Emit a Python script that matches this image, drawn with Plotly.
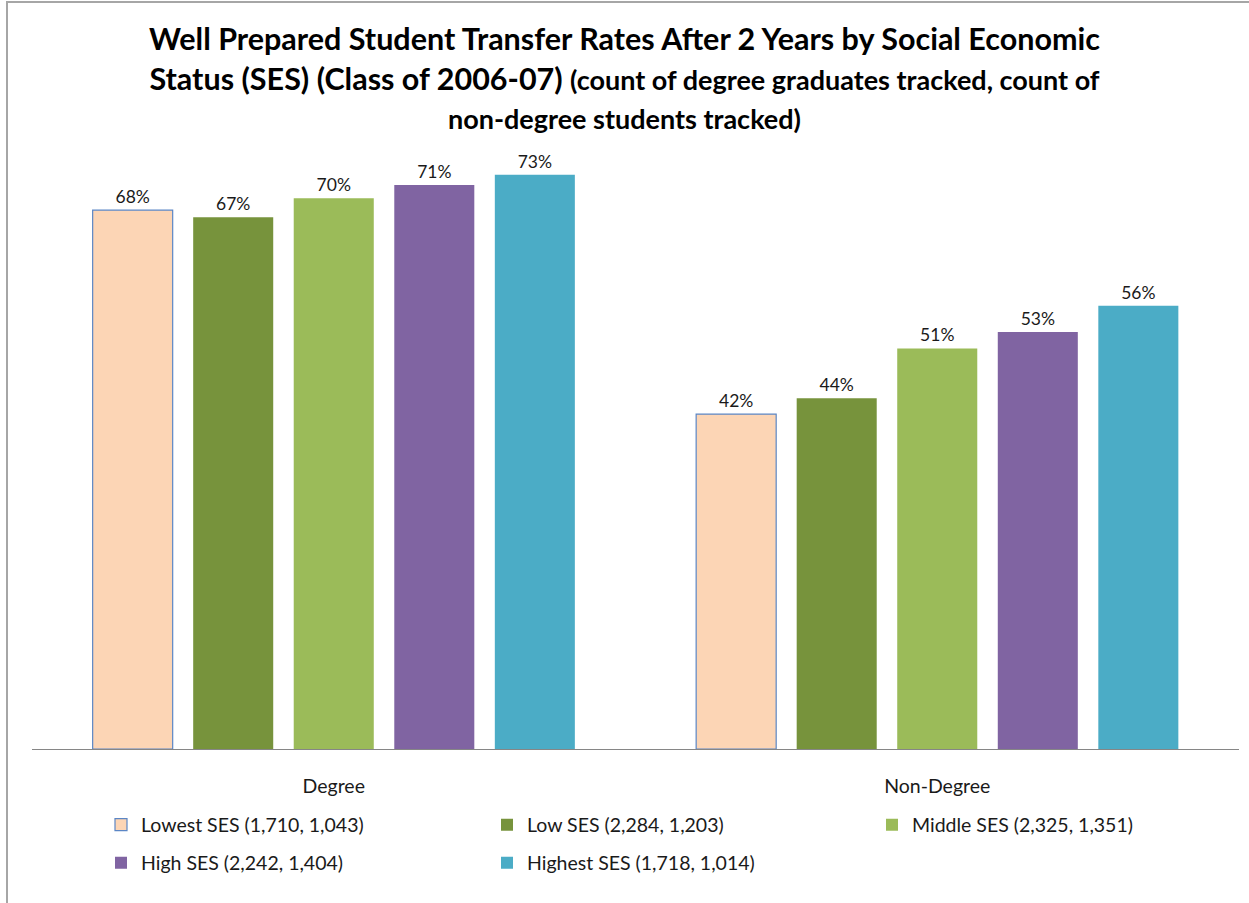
import plotly.graph_objects as go

categories = ["Degree", "Non-Degree"]
series_names = [
    "Lowest SES (1,710, 1,043)",
    "Low SES (2,284, 1,203)",
    "Middle SES (2,325, 1,351)",
    "High SES (2,242, 1,404)",
    "Highest SES (1,718, 1,014)",
]
lowest_ses = [0.682, 0.424]
low_ses = [0.673, 0.444]
middle_ses = [0.697, 0.507]
high_ses = [0.714, 0.528]
highest_ses = [0.727, 0.561]
series_values = [lowest_ses, low_ses, middle_ses, high_ses, highest_ses]

colors = ["#FCD5B5", "#77933C", "#9BBB59", "#8064A2", "#4BACC6"]
line_colors = ["#5B86C5", "#77933C", "#9BBB59", "#8064A2", "#4BACC6"]
line_widths = [1.2, 0, 0, 0, 0]

# plot area geometry (page px)
W, H = 1249, 903
ml, mr, mt, mb = 32, 10, 117, 154
pw = W - ml - mr
ph = H - mt - mb

def px_x(x):
    return (x - ml) / pw

def px_y(y):
    return (H - mb - y) / ph

legend_names = ["legend", "legend2", "legend3", "legend4", "legend5"]
legend_pos = [(101, 825), (487, 825), (872, 825), (101, 863), (487, 863)]

FONT = "Lato, Carlito, 'Liberation Sans', sans-serif"

fig = go.Figure()
for i, name in enumerate(series_names):
    fig.add_trace(go.Bar(
        x=categories,
        y=series_values[i],
        name=name,
        marker=dict(color=colors[i], line=dict(color=line_colors[i], width=line_widths[i])),
        texttemplate="%{y:.0%}",
        textposition="outside",
        textfont=dict(size=17.5, color="#1a1a1a", family=FONT),
        cliponaxis=False,
        legend=legend_names[i],
    ))

layout_legends = {}
for i, ln in enumerate(legend_names):
    lx, ly = legend_pos[i]
    layout_legends[ln] = dict(
        x=px_x(lx), y=px_y(ly), xanchor="left", yanchor="middle",
        orientation="v", bgcolor="rgba(0,0,0,0)", borderwidth=0,
        font=dict(size=19.5, color="#1a1a1a", family=FONT),
    )

title_text = ("Well Prepared Student Transfer Rates After 2 Years by Social Economic<br>"
              "Status (SES) (Class of 2006-07) <span style='font-size:27px'>(count of degree graduates tracked, count of</span><br>"
              "<span style='font-size:27px'>non-degree students tracked)</span>")

fig.update_layout(
    width=W, height=H,
    margin=dict(l=ml, r=mr, t=mt, b=mb),
    paper_bgcolor="white", plot_bgcolor="white",
    barmode="group", bargap=0.167, bargroupgap=0.204,
    title=dict(text="<b>" + title_text + "</b>", x=0.5, xref="container", xanchor="center",
               y=1 - 50 / H, yref="container", yanchor="top",
               font=dict(size=30.5, color="#000000", family=FONT)),
    xaxis=dict(showline=True, linecolor="#868686", linewidth=1, ticks="",
               tickfont=dict(size=19.5, color="#1a1a1a", family=FONT),
               ticklabelstandoff=20, showgrid=False, zeroline=False),
    yaxis=dict(range=[0, 0.8], visible=False, showgrid=False, zeroline=False),
    showlegend=True,
    shapes=[
        dict(type="line", xref="paper", yref="paper", x0=px_x(7), x1=px_x(7),
             y0=px_y(903), y1=px_y(2), line=dict(color="#A6A6A6", width=2)),
        dict(type="line", xref="paper", yref="paper", x0=px_x(6), x1=px_x(1249),
             y0=px_y(2), y1=px_y(2), line=dict(color="#A6A6A6", width=2)),
    ],
    **layout_legends,
)

fig.write_html("out.html", config={"displayModeBar": False},
               post_script="document.body.style.margin='0';document.body.style.overflow='hidden';")
